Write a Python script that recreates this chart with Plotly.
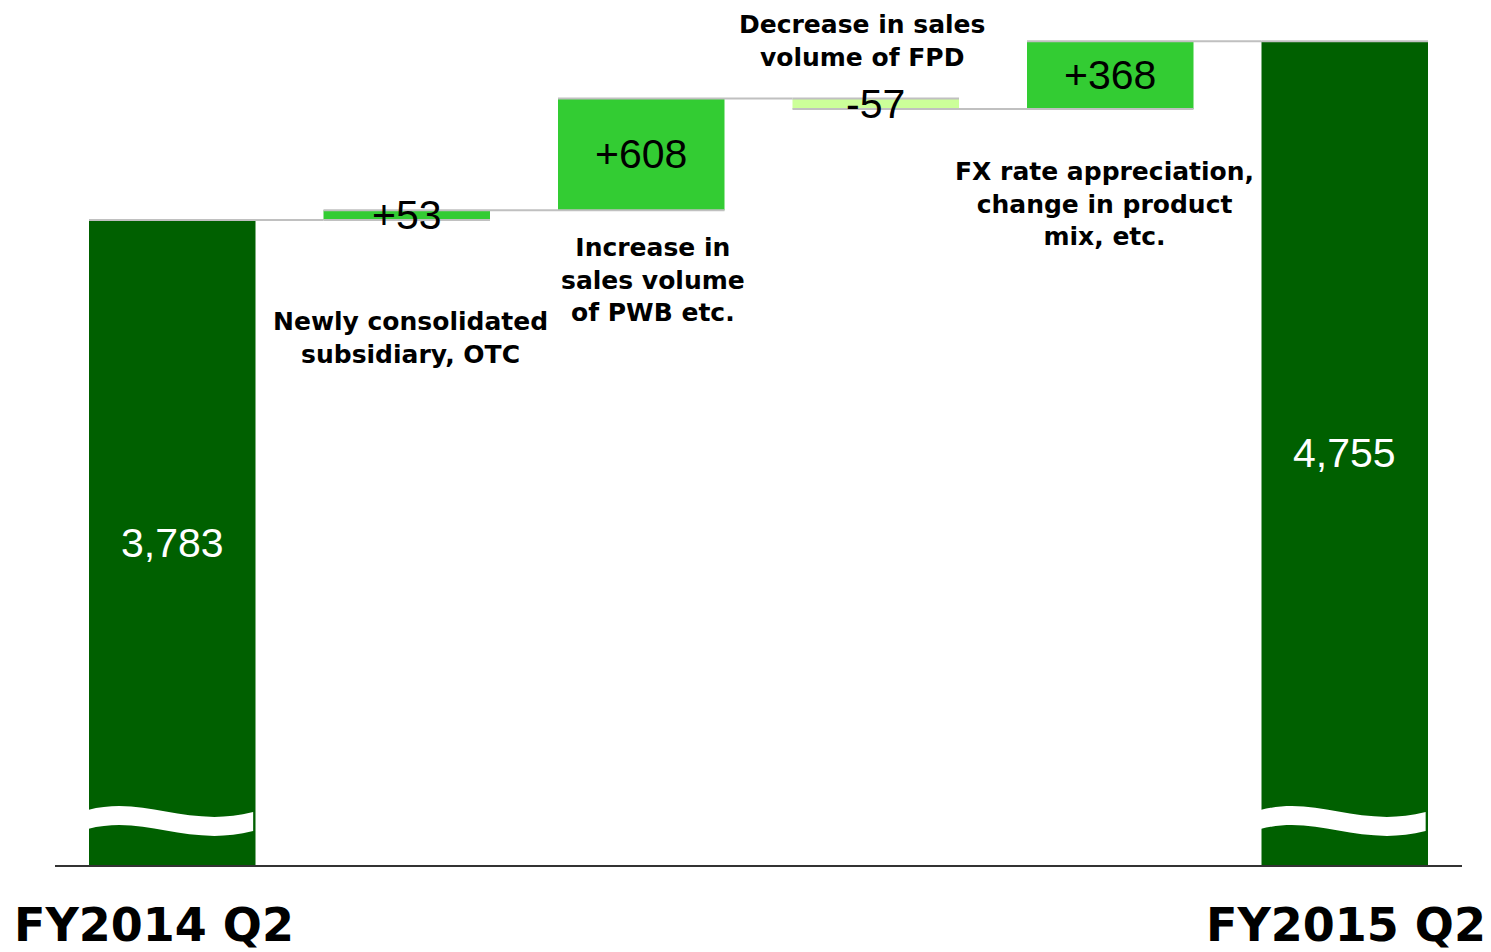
import plotly.graph_objects as go

# ---- data ----
categories = ["FY2014 Q2", "Newly consolidated", "PWB", "FPD", "FX", "FY2015 Q2"]
values = [3783, 53, 608, -57, 368, 4755]
measures = ["absolute", "relative", "relative", "relative", "relative", "total"]
value_labels = ["3,783", "+53", "+608", "-57", "+368", "4,755"]
descriptions = [
    "",
    "Newly consolidated<br>subsidiary, OTC",
    "Increase in<br>sales volume<br>of PWB etc.",
    "Decrease in sales<br>volume of FPD",
    "FX rate appreciation,<br>change in product<br>mix, etc.",
    "",
]

# ---- layout geometry (page has an 8px body margin) ----
OFF = 8
W, H = 1491 - OFF, 952 - OFF
M_L, M_R, M_T, M_B = 55 - OFF, 29, 20 - OFF, 87
Y_LO, Y_HI = 280, 4870
plot_h = H - M_T - M_B
upp = (Y_HI - Y_LO) / plot_h  # data units per pixel


def ypx(pix):
    """page pixel row -> data y"""
    return Y_LO + (H - M_B - (pix - OFF)) * upp


def paper_y(pix):
    return (H - M_B - (pix - OFF)) / plot_h


xs = list(range(len(categories)))
BAR_W = 0.71

DARK = "#006000"
BRIGHT = "#33CC33"
LIGHT = "#CCFF99"

fig = go.Figure()
fig.add_trace(go.Waterfall(
    x=xs, y=values, measure=measures, width=BAR_W,
    increasing=dict(marker=dict(color=BRIGHT)),
    decreasing=dict(marker=dict(color=LIGHT)),
    totals=dict(marker=dict(color=DARK)),
    connector=dict(mode="spanning", line=dict(color="#C0C0C0", width=2)),
    showlegend=False, hoverinfo="skip",
))

# bar segments (start/end) computed from data
segments = []
run = 0
for v, m in zip(values, measures):
    if m == "absolute":
        lo, hi = 0, v
        run = v
    elif m == "total":
        lo, hi = 0, run
    else:
        lo, hi = run, run + v
        run += v
    segments.append((max(min(lo, hi), Y_LO), max(lo, hi)))

annotations = []
for i, (seg, lab, m) in enumerate(zip(segments, value_labels, measures)):
    col = "white" if m in ("absolute", "total") else "black"
    annotations.append(dict(
        x=xs[i], y=(seg[0] + seg[1]) / 2, xref="x", yref="y", text=lab,
        showarrow=False, yanchor="middle",
        font=dict(family="Liberation Sans, Arial", size=41, color=col),
    ))

desc_pos = {1: (4, 338), 2: (12, 280), 3: (-14, 41), 4: (-6, 204)}
for i, (dx, py) in desc_pos.items():
    annotations.append(dict(
        x=xs[i], y=ypx(py), xref="x", yref="y", xshift=dx, text=descriptions[i],
        showarrow=False, align="center", yanchor="middle",
        font=dict(family="DejaVu Sans", size=25, color="black", weight="bold"),
    ))

# category labels below the axis
for i, dx in ((0, -18), (5, 1)):
    annotations.append(dict(
        x=xs[i], y=paper_y(925), xref="x", yref="paper", xshift=dx,
        text=categories[i], showarrow=False, yanchor="middle",
        font=dict(family="DejaVu Sans", size=46, color="black", weight="bold"),
    ))

# axis-break waves on the two total bars
shapes = []
for i in (0, 5):
    x0 = xs[i] - BAR_W / 2 - 0.005
    x1 = xs[i] + BAR_W / 2 - 0.01
    w = x1 - x0
    t0, t1 = ypx(810), ypx(812)
    c1, c2 = ypx(795), ypx(829)
    th = 19 * upp
    path = (
        f"M {x0},{t0} C {x0 + 0.35 * w},{c1} {x0 + 0.6 * w},{c2} {x1},{t1} "
        f"L {x1},{t1 - th} C {x0 + 0.6 * w},{c2 - th} {x0 + 0.35 * w},{c1 - th} {x0},{t0 - th} Z"
    )
    shapes.append(dict(type="path", path=path, xref="x", yref="y",
                       fillcolor="white", line=dict(width=0), layer="above"))

fig.update_layout(
    width=W, height=H,
    margin=dict(l=M_L, r=M_R, t=M_T, b=M_B),
    plot_bgcolor="white", paper_bgcolor="white",
    xaxis=dict(range=[-0.5, len(xs) - 0.5], showgrid=False, zeroline=False,
               showticklabels=False, ticks="", showline=True,
               linecolor="#333333", linewidth=2),
    yaxis=dict(range=[Y_LO, Y_HI], showgrid=False, zeroline=False,
               showticklabels=False, ticks="", showline=False),
    annotations=annotations, shapes=shapes,
)

fig.write_html("out.html")
